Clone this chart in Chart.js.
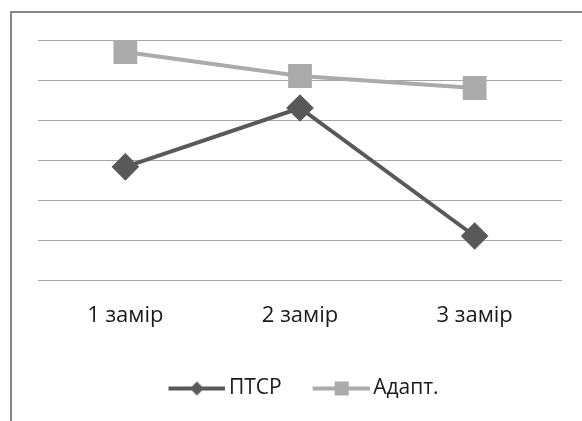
<!DOCTYPE html>
<html>
<head>
<meta charset="utf-8">
<script src="https://cdn.jsdelivr.net/npm/chart.js@4/dist/chart.umd.min.js"></script>
<style>
  body { margin: 0; background: #fff; overflow: hidden; }
  #frame {
    position: absolute; left: 10px; top: 11px; width: 600px; height: 420px;
    border-left: 2px solid #868686; border-top: 2px solid #868686;
  }
  #myChart { position: absolute; left: 0; top: 0; }
</style>
</head>
<body>
<div id="frame"></div>
<canvas id="myChart" width="582" height="421"></canvas>
<script>
const labels = ['1 замір', '2 замір', '3 замір'];
const ptsr = [2.83, 4.3, 1.1];
const adapt = [5.7, 5.1, 4.8];

const darkGray = '#595959';
const lightGray = '#ababab';
const textColor = '#1a1a1a';

// legend symbol: short line with the marker in the middle, like Excel
// (canvas is a bit wider on the left so the text sits closer to the line)
function legendIcon(color, shape) {
  const c = document.createElement('canvas');
  c.width = 71;
  c.height = 20;
  const g = c.getContext('2d');
  g.strokeStyle = color;
  g.lineWidth = 4;
  g.beginPath();
  g.moveTo(14, 10);
  g.lineTo(71, 10);
  g.stroke();
  g.fillStyle = color;
  if (shape === 'diamond') {
    g.beginPath();
    g.moveTo(42.5, 3);
    g.lineTo(49.5, 10);
    g.lineTo(42.5, 17);
    g.lineTo(35.5, 10);
    g.closePath();
    g.fill();
  } else {
    g.fillRect(36, 3, 14, 14);
  }
  return c;
}

const context = document.getElementById('myChart').getContext('2d');

const chart = new Chart(context, {
  type: 'line',
  data: {
    labels: labels,
    datasets: [
      {
        label: 'ПТСР',
        data: ptsr,
        borderColor: darkGray,
        backgroundColor: darkGray,
        borderWidth: 4,
        pointStyle: 'rectRot',
        pointRadius: 11,
        pointHoverRadius: 11,
        tension: 0,
      },
      {
        label: 'Адапт.',
        data: adapt,
        borderColor: lightGray,
        backgroundColor: lightGray,
        borderWidth: 4,
        pointStyle: 'rect',
        pointRadius: 14,
        pointHoverRadius: 14,
        tension: 0,
      },
    ],
  },
  options: {
    responsive: false,
    animation: false,
    layout: { padding: { left: 38, right: 20, top: 40, bottom: 12 } },
    scales: {
      x: {
        offset: true,
        grid: { display: false },
        border: { display: false },
        ticks: { color: textColor, padding: 15, font: { family: 'Open Sans', size: 22 } },
        afterFit: (scale) => { scale.height = 74; },
      },
      y: {
        min: 0,
        max: 6,
        ticks: { display: false, stepSize: 1 },
        border: { display: false },
        grid: { color: '#a6a6a6', lineWidth: 1, drawTicks: false },
        afterFit: (scale) => { scale.width = 0; },
      },
    },
    plugins: {
      legend: {
        position: 'bottom',
        labels: {
          usePointStyle: true,
          pointStyleWidth: 57,
          color: textColor,
          font: { family: 'Open Sans', size: 21 },
          padding: 24,
          generateLabels: (ch) => [
            { text: 'ПТСР', pointStyle: legendIcon(darkGray, 'diamond'), fontColor: textColor, datasetIndex: 0 },
            { text: 'Адапт.', pointStyle: legendIcon(lightGray, 'square'), fontColor: textColor, datasetIndex: 1 },
          ],
        },
      },
      tooltip: { enabled: false },
    },
  },
});
</script>
</body>
</html>
